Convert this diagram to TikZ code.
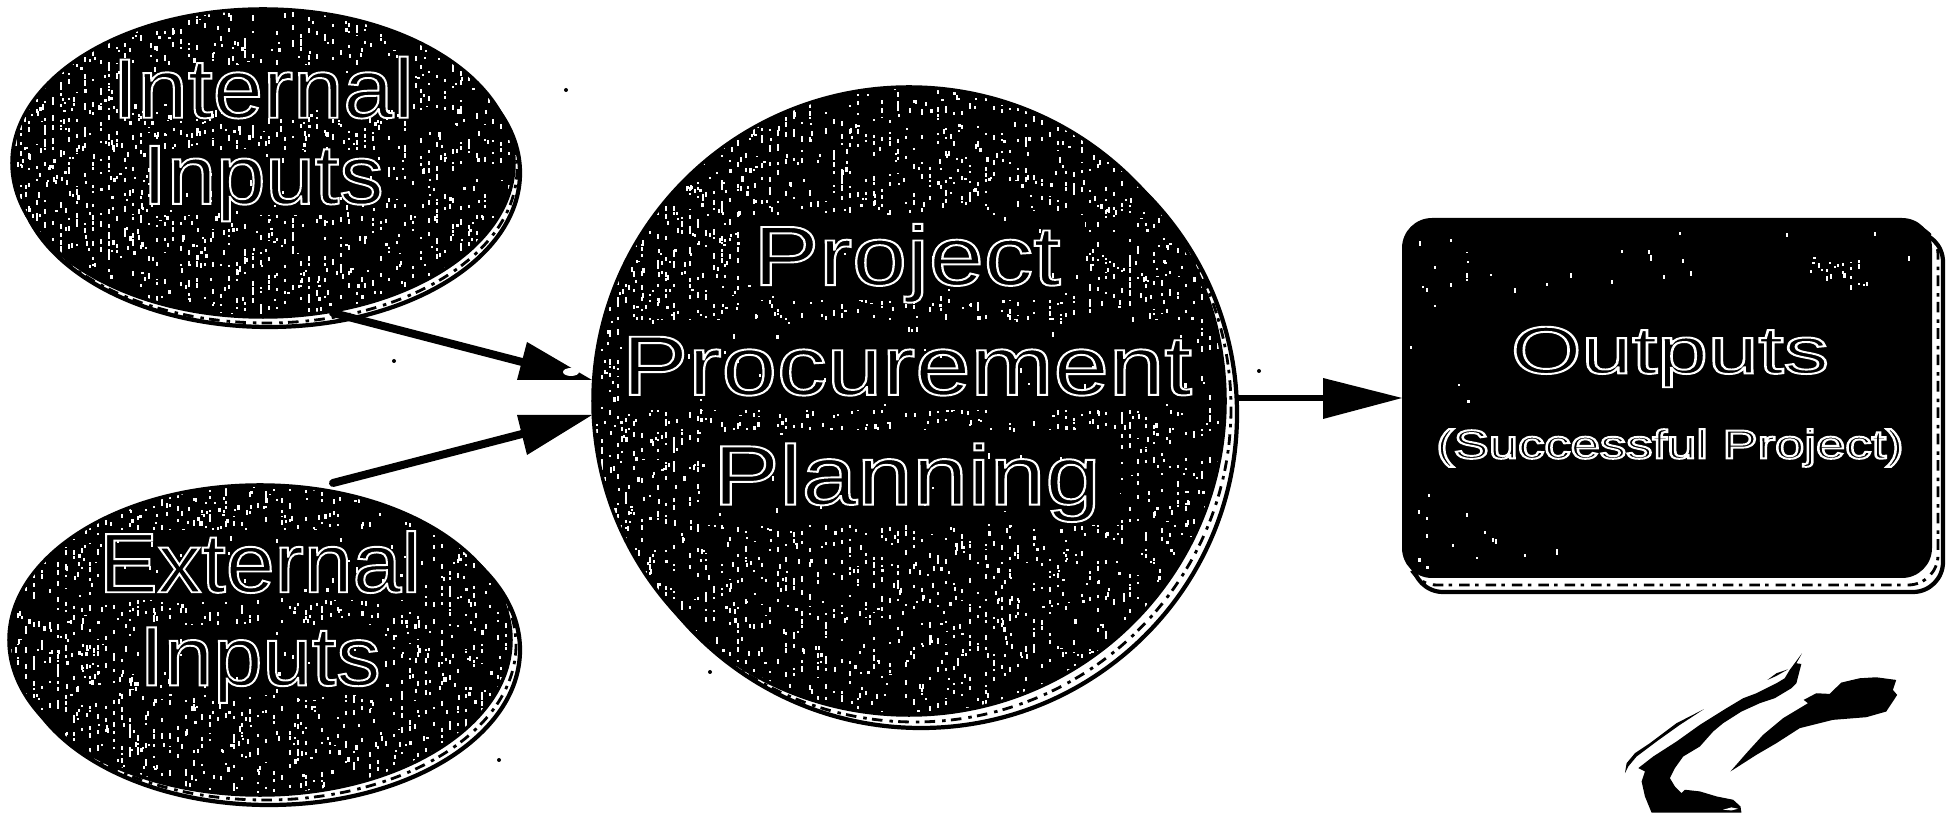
\documentclass[tikz,border=0pt]{standalone}
\usepackage{fontspec}
\setmainfont{Liberation Sans}
\usetikzlibrary{shapes.geometric}
\newcommand\otext[2][1.12]{\scalebox{#1}[1]{\special{pdf:code 1 1 1 RG 2 Tr 0.55 w}#2\special{pdf:code 0 Tr}}}
% count, x0, y0, width, height, seed
\newcommand\speck[6]{%
  \pgfmathsetseed{#6}%
  \foreach \i in {1,...,#1} {%
    \pgfmathsetmacro\px{#2+round(rnd^1.2*#4/8)*8+(rnd<0.35)*rnd*6}%
    \pgfmathsetmacro\py{#3+rnd*#5}%
    \pgfmathsetmacro\ph{1.5+rnd*4}%
    \fill[white] (\px,\py) rectangle ++(2.2,\ph);%
  }}
\tikzset{
  x=0.01cm,y=-0.01cm,
  band/.style={fill=white,draw=black,line width=1.2pt},
  grit/.style={draw=black,line width=0.8pt,dash pattern=on 3pt off 1.5pt on 1pt off 2pt,fill=none},
  conn/.style={draw=black,line width=0.08cm,line cap=round},
  label/.style={align=center,text=black,inner sep=1pt,font=\fontsize{24}{24.5}\selectfont},
  biglabel/.style={label,font=\fontsize{24}{31.2}\selectfont},
}
\begin{document}
\begin{tikzpicture}
\useasboundingbox (0,0) rectangle (1951,813);
% shadows
\path[band] (269,173) ellipse [x radius=251,y radius=154];
\path[grit] (266,169) ellipse [x radius=251,y radius=154];
\path[band] (269,650) ellipse [x radius=251,y radius=155];
\path[grit] (265,645) ellipse [x radius=251,y radius=155];
\path[band] (921,414) ellipse [x radius=316,y radius=314];
\path[grit] (915,408) ellipse [x radius=316,y radius=314];
\path[band,rounded corners=0.3cm] (1413,232) rectangle (1943,592);
\path[grit,rounded corners=0.3cm] (1407,225) rectangle (1938,585);
% black bodies
\begin{scope}
\clip (263,163) ellipse [x radius=251,y radius=154];
\fill[black] (0,0) rectangle (560,340);
\speck{1800}{12}{9}{500}{308}{11}
\fill[black] (130,65) rectangle (410,110);
\fill[black] (150,150) rectangle (385,215);
\speck{60}{130}{65}{280}{150}{12}
\end{scope}
\draw[black,line width=1pt] (263,163) ellipse [x radius=251,y radius=154];
\begin{scope}
\clip (260,640) ellipse [x radius=251,y radius=155];
\fill[black] (0,470) rectangle (560,813);
\speck{1800}{9}{485}{500}{310}{23}
\fill[black] (100,530) rectangle (420,600);
\fill[black] (140,625) rectangle (385,695);
\speck{60}{100}{530}{320}{165}{24}
\end{scope}
\draw[black,line width=1pt] (260,640) ellipse [x radius=251,y radius=155];
\begin{scope}
\clip (909,401) ellipse [x radius=316,y radius=314];
\fill[black] (580,70) rectangle (1240,730);
\speck{3900}{593}{87}{632}{628}{37}
\fill[black] (740,215) rectangle (1085,300);
\fill[black] (620,320) rectangle (1200,410);
\fill[black] (705,430) rectangle (1120,525);
\speck{110}{620}{215}{580}{310}{38}
\end{scope}
\draw[black,line width=1pt] (909,401) ellipse [x radius=316,y radius=314];
\fill[black,rounded corners=0.3cm] (1402,218) rectangle (1932,578);
\begin{scope}
\clip (1410,225) rectangle (1925,570);
\speck{25}{1410}{230}{520}{60}{41}
\speck{14}{1410}{230}{60}{340}{42}
\speck{8}{1420}{530}{150}{35}{43}
\speck{25}{1810}{255}{60}{30}{47}
\end{scope}
% nodes
\node[label] (internal) at (263,139) {\otext[1.07]{Internal}\\[0pt]\otext[1.05]{Inputs}};
\node[label] (external) at (260,617) {\otext[1.04]{External}\\[2pt]\otext[1.05]{Inputs}};
\node[biglabel] (planning) at (907,373) {\otext[1.17]{Project}\\[0pt]\otext[1.18]{Procurement}\\[0pt]\otext[1.18]{Planning}};
\node[align=center,font=\fontsize{19}{22}\selectfont] (outputs) at (1670,357) {\otext[1.36]{Outputs}};
\node[align=center,font=\fontsize{11.5}{14}\selectfont] (result) at (1670,448) {\otext[1.3]{(Successful Project)}};
% connector ends
\coordinate (upS) at (333,313);
\coordinate (upT) at (592,380);
\coordinate (upA) at (527,342);
\coordinate (upB) at (517,380);
\coordinate (upM) at (522,362);
\coordinate (loS) at (333,483);
\coordinate (loT) at (592,415);
\coordinate (loA) at (517,415);
\coordinate (loB) at (527,455);
\coordinate (loM) at (522,434);
\coordinate (riS) at (1238,398);
\coordinate (riT) at (1402,398);
\coordinate (riA) at (1323,378);
\coordinate (riB) at (1323,419);
\coordinate (riM) at (1323,398);
\draw[conn] (upS) -- (upM);
\fill[black] (upA) -- (upT) -- (upB) -- cycle;
\fill[white] (571,372) ellipse [x radius=8,y radius=4];
\draw[conn] (loS) -- (loM);
\fill[black] (loA) -- (loT) -- (loB) -- cycle;
\draw[conn,line width=0.06cm,line cap=butt] (riS) -- (riM);
\fill[black] (riA) -- (riT) -- (riB) -- cycle;
% stray marks
\foreach \p in {(566,90),(394,361),(1259,371),(710,672),(499,760)} \fill[black] \p circle (2);
% signature
\begin{scope}[shift={(1600,640)},x=0.003333cm,y=-0.003333cm]
\fill[black] (607,40) -- (590,70) -- (605,72) -- (590,130) -- (575,145) -- (525,175) -- (480,190) -- (425,215) -- (370,250) -- (340,275) -- (300,320) -- (250,350) -- (225,385) -- (210,415) -- (225,440) -- (245,460) -- (255,450) -- (300,455) -- (350,470) -- (400,480) -- (422,500) -- (425,519) -- (155,519) -- (135,470) -- (125,425) -- (135,395) -- (115,385) -- (160,350) -- (230,305) -- (300,255) -- (380,205) -- (430,175) -- (470,160) -- (530,130) -- (555,115) -- (570,90) -- cycle;
\fill[white] (370,510) -- (395,503) -- (415,507) -- (395,512) -- cycle;
\fill[black] (890,120) -- (880,150) -- (893,165) -- (860,215) -- (800,232) -- (700,240) -- (600,265) -- (530,310) -- (470,345) -- (392,395) -- (440,340) -- (490,285) -- (550,235) -- (625,190) -- (612,180) -- (650,160) -- (690,162) -- (725,128) -- (780,115) -- (830,112) -- cycle;
\fill[black] (75,400) -- (80,370) -- (105,340) -- (150,310) -- (230,250) -- (312,208) -- (240,255) -- (170,305) -- (110,350) -- (85,380) -- cycle;
\fill[black] (503,120) -- (530,100) -- (565,88) -- (530,108) -- cycle;
\end{scope}
\end{tikzpicture}
\end{document}
